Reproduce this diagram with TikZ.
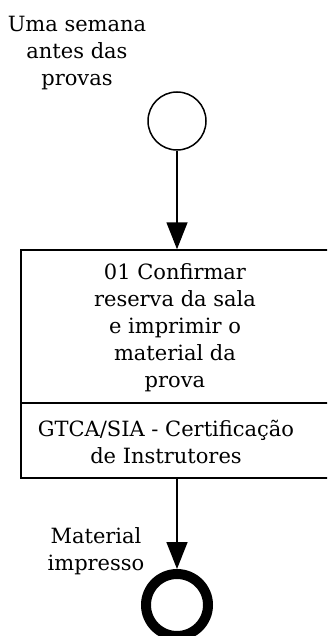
\documentclass[tikz,border=0pt]{standalone}
\usepackage{fontspec}
\setmainfont{DejaVu Serif}
\usetikzlibrary{arrows.meta}
\begin{document}
\begin{tikzpicture}[x=1pt,y=-1pt,
  txt/.style={font=\fontsize{21}{27}\selectfont, align=center, inner sep=0pt},
  flow/.style={line width=1.5pt, -{Triangle[length=27pt,width=21pt]}},
  startev/.style={circle, draw, line width=1.5pt, minimum size=58pt, inner sep=0pt},
  endev/.style={circle, draw, line width=10pt, minimum size=62pt, inner sep=0pt},
  taskbox/.style={rectangle, draw, line width=1.5pt, minimum width=314pt, minimum height=228pt, inner sep=0pt}]
\useasboundingbox (0,0) rectangle (327,636);
\clip (0,0) rectangle (327,636);
\fill[white] (0,0) rectangle (327,636);
\node[startev] (s) at (177,121) {};
\node[txt] (sl) at (77,53) {Uma semana\\antes das\\provas};
\node[taskbox] (t) at (178,364) {};
\draw[line width=1.5pt] (21,403) -- (335,403);
\node[txt] (tl) at (175,328) {01 Confirmar\\reserva da sala\\e imprimir o\\material da\\prova};
\node[txt] (rl) at (166,442) {GTCA/SIA - Certificação\\de Instrutores};
\node[endev] (e) at (177,605) {};
\node[txt] (el) at (96,551) {Material\\impresso};
\draw[flow] (s.south) -- (s.south |- t.north);
\draw[flow] (s.south |- t.south) -- (e.north);
\end{tikzpicture}
\end{document}
